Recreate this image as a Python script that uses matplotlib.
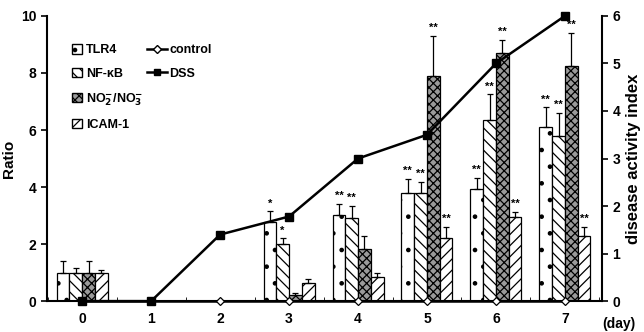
import numpy as np
import matplotlib.pyplot as plt
from matplotlib.patches import Patch
from matplotlib.lines import Line2D

plt.rcParams['font.family'] = ['Liberation Sans', 'DejaVu Sans']
plt.rcParams['font.weight'] = 'bold'
plt.rcParams['axes.labelweight'] = 'bold'
plt.rcParams['mathtext.default'] = 'bf'
plt.rcParams['hatch.linewidth'] = 0.9

# dati
days = [0, 1, 2, 3, 4, 5, 6, 7]
tlr4 = [1.0, 0, 0, 2.77, 3.02, 3.79, 3.92, 6.1]
tlr4_err = [0.4, 0, 0, 0.38, 0.38, 0.5, 0.4, 0.7]
nfkb = [1.0, 0, 0, 2.0, 2.9, 3.78, 6.35, 5.8]
nfkb_err = [0.15, 0, 0, 0.2, 0.43, 0.4, 0.9, 0.8]
nox = [1.0, 0, 0, 0.2, 1.82, 7.89, 8.7, 8.25]
nox_err = [0.4, 0, 0, 0.1, 0.46, 1.4, 0.46, 1.15]
icam = [1.0, 0, 0, 0.63, 0.84, 2.2, 2.95, 2.28]
icam_err = [0.1, 0, 0, 0.15, 0.14, 0.4, 0.17, 0.32]
stelle_tlr4 = ['', '', '', '*', '**', '**', '**', '**']
stelle_nfkb = ['', '', '', '*', '**', '**', '**', '**']
stelle_nox = ['', '', '', '', '', '**', '**', '**']
stelle_icam = ['', '', '', '', '', '**', '**', '**']
control = [0, 0, 0, 0, 0, 0, 0, 0]
dss = [0, 0, 1.4, 1.78, 3.0, 3.5, 5.0, 6.0]

fig = plt.figure(figsize=(6.44, 3.32), dpi=100)
ax = fig.add_axes([0.073, 0.093, 0.862, 0.859])
ax2 = ax.twinx()

x = np.array(days)
w = 0.185
serie = [(tlr4, tlr4_err, stelle_tlr4, 'white', '.'),
         (nfkb, nfkb_err, stelle_nfkb, 'white', '\\\\\\'),
         (nox, nox_err, stelle_nox, '#9a9a9a', 'xxxx'),
         (icam, icam_err, stelle_icam, 'white', '///')]

for i, (val, err, st, fc, h) in enumerate(serie):
    pos = x + (i - 1.5) * w
    val = np.array(val)
    err = np.array(err)
    mask = val > 0
    ax.bar(pos[mask], val[mask], width=w, color=fc, edgecolor='k', hatch=h,
           linewidth=0.9, zorder=2)
    ax.errorbar(pos[mask], val[mask], yerr=[np.zeros(mask.sum()), err[mask]],
                fmt='none', ecolor='k', elinewidth=0.9, capsize=2.5, capthick=0.9, zorder=3)
    for p, v, e, s in zip(pos, val, err, st):
        if s:
            ax.text(p, v + e + 0.1, s, ha='center', va='bottom', fontsize=8, zorder=4)

ax.set_xlim(-0.51, 7.54)
ax.set_ylim(0, 10)
ax.set_yticks([0, 2, 4, 6, 8, 10])
ax.set_xticks(days)
ax.set_xticks(np.arange(-0.5, 7.6, 1), minor=True)
ax.tick_params(axis='x', which='major', length=0, pad=8, labelsize=10)
ax.tick_params(axis='x', which='minor', length=3, direction='in')
ax.tick_params(axis='y', labelsize=10, length=4, width=1.2)
ax.set_ylabel('Ratio', fontsize=11, fontweight='bold')
ax.spines['top'].set_visible(False)
ax.spines['right'].set_visible(False)
for s in ['left', 'bottom']:
    ax.spines[s].set_linewidth(1.5)

ax2.plot(x, control, color='k', lw=1.8, marker='D', ms=4.5, mfc='white', mec='k', mew=0.9,
         zorder=5, clip_on=False)
ax2.plot(x, dss, color='k', lw=1.8, marker='s', ms=5.5, mfc='k', mec='k', zorder=6, clip_on=False)
ax2.set_ylim(0, 6)
ax2.set_yticks([0, 1, 2, 3, 4, 5, 6])
ax2.tick_params(axis='y', labelsize=10, length=4, width=1.2)
ax2.set_ylabel('disease activity index', fontsize=12, fontweight='bold')
ax2.spines['top'].set_visible(False)
ax2.spines['right'].set_linewidth(1.5)
ax2.spines['left'].set_visible(False)
ax2.spines['bottom'].set_visible(False)
ax.set_zorder(ax2.get_zorder() - 1)
ax.patch.set_visible(False)

ax.text(1.0, -0.08, '(day)', transform=ax.transAxes, ha='left', va='center', fontsize=10)

# legende
h_bar = [Patch(facecolor='white', edgecolor='k', hatch='.'),
         Patch(facecolor='white', edgecolor='k', hatch='\\\\\\'),
         Patch(facecolor='#9a9a9a', edgecolor='k', hatch='xxxx'),
         Patch(facecolor='white', edgecolor='k', hatch='///')]
lab_bar = ['TLR4', 'NF-\u03baB', r'NO$_2^{-}$/NO$_3^{-}$', 'ICAM-1']
leg1 = ax.legend(h_bar, lab_bar, loc='upper left', bbox_to_anchor=(0.025, 0.94), frameon=False,
                 handlelength=0.8, handleheight=0.8, handletextpad=0.3, labelspacing=0.9, fontsize=9)
ax.add_artist(leg1)
h_lin = [Line2D([], [], color='k', lw=1.8, marker='D', ms=4, mfc='white'),
         Line2D([], [], color='k', lw=1.8, marker='s', ms=5, mfc='k')]
ax.legend(h_lin, ['control', 'DSS'], loc='upper left', bbox_to_anchor=(0.16, 0.94), frameon=False,
          handlelength=1.6, handletextpad=0.2, labelspacing=0.9, fontsize=9)

plt.savefig('out.png')
